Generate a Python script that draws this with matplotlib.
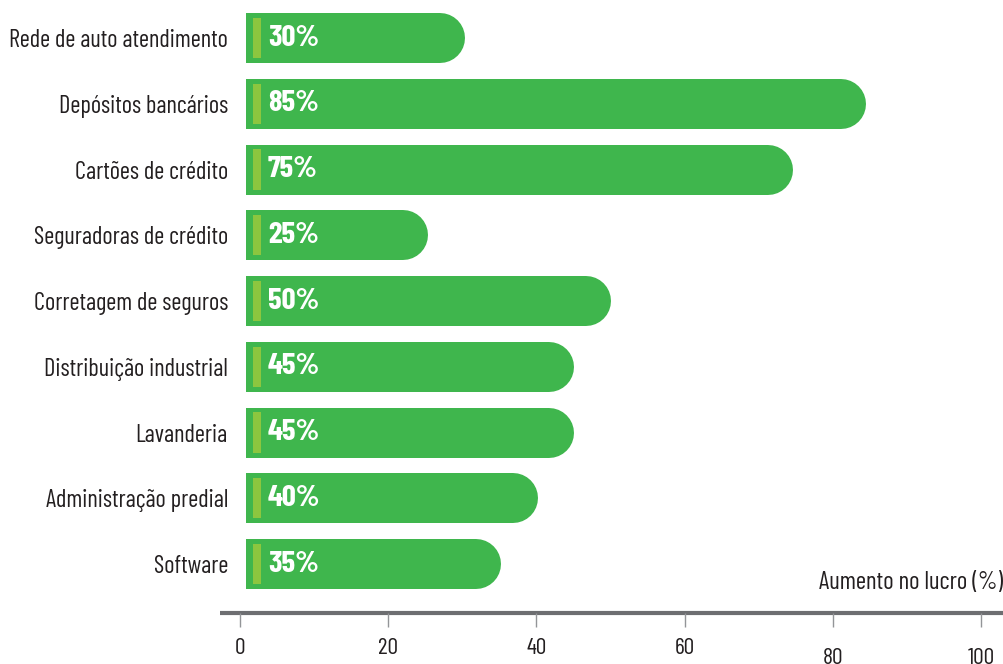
import matplotlib.pyplot as plt
import matplotlib.transforms as mtransforms

# Data
categories = ['Rede de auto atendimento', 'Depósitos bancários', 'Cartões de crédito',
              'Seguradoras de crédito', 'Corretagem de seguros', 'Distribuição industrial',
              'Lavanderia', 'Administração predial', 'Software']
values = [30, 85, 75, 25, 50, 45, 45, 40, 35]
ticks = [0, 20, 40, 60, 80, 100]

plt.rcParams['font.family'] = ['Barlow Condensed', 'DejaVu Sans']

green = '#3fb64d'
stripe = '#8cc63f'
gray = '#6d6e71'
textc = '#231f20'

fig = plt.figure(figsize=(10.04, 6.64), dpi=100)
ax = fig.add_axes([0.245, 0.0768, 0.727, 0.9232])
ax.set_xlim(0, 100)
ax.set_ylim(8.745, -0.578)

bar_pt = 36          # bar thickness in points (50 px)
cap = 3.42           # half of bar thickness in x units, for the rounded end
for i, v in enumerate(values):
    # thick line with round caps; left cap is clipped by the axes at x=0
    ax.plot([0, v - cap], [i, i], color=green, lw=bar_pt, solid_capstyle='round')
    ax.barh(i, 1.1, left=1.0, height=0.61, color=stripe, linewidth=0, zorder=3)
    ax.text(3.0, i, f'{v}%', color='white', fontsize=22.3, fontweight='bold',
            va='center', ha='left', zorder=4)

ax.set_yticks(range(len(categories)))
ax.set_yticklabels(categories, fontsize=17.6, color=textc)
ax.tick_params(axis='y', length=0, pad=13)
ax.set_xticks([])
for s in ax.spines.values():
    s.set_visible(False)

# separate axis for the ticks (sits a little wider than the bars)
tx = fig.add_axes([0.239, 0.0768, 0.738, 0.001])
tx.patch.set_visible(False)
tx.set_yticks([])
tx.set_xlim(0, 100)
tx.set_xticks(ticks)
tx.set_xticklabels([str(t) for t in ticks], fontsize=17, color=textc)
tx.tick_params(axis='x', length=10, width=1, color='#939598', pad=8, direction='out')
for s in tx.spines.values():
    s.set_visible(False)
for lab in tx.get_xticklabels():
    if lab.get_text() in ('80', '100'):
        lab.set_transform(lab.get_transform() +
                          mtransforms.ScaledTranslation(0, -7 / 72, fig.dpi_scale_trans))

ax.plot([-0.036, 1.04], [0, 0], transform=ax.transAxes, color=gray, lw=3,
        clip_on=False, solid_capstyle='butt')

ax.text(1.0375, 0.05, 'Aumento no lucro (%)', transform=ax.transAxes, ha='right',
        va='center', fontsize=18, color=textc)

fig.savefig('out.png', dpi=100)
